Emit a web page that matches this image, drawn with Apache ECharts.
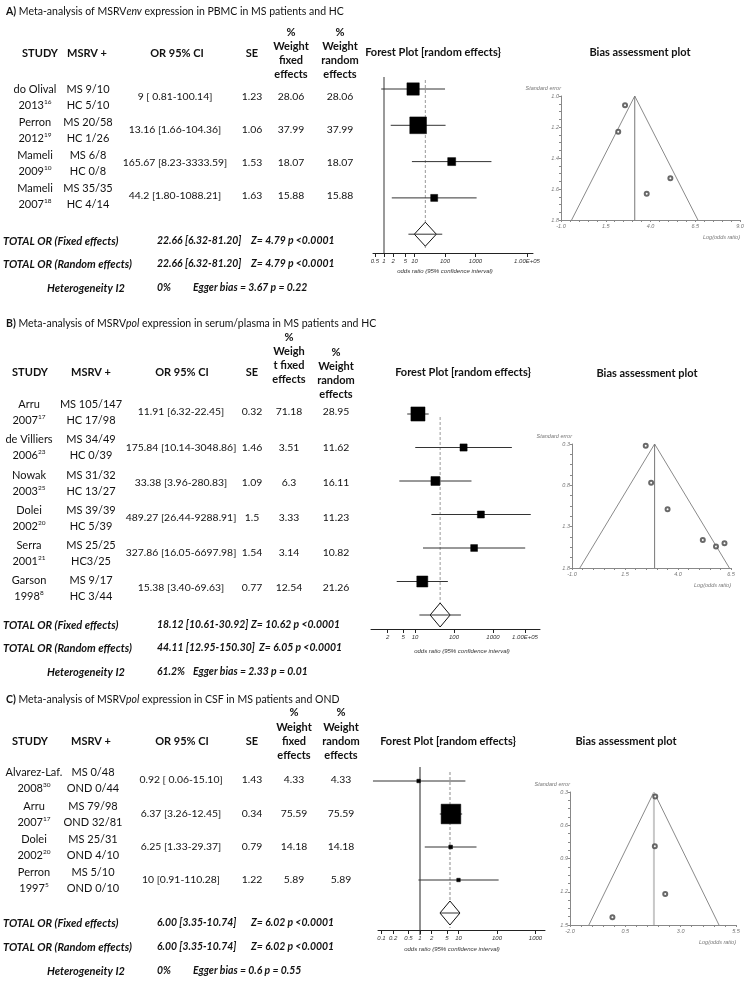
<!DOCTYPE html>
<html><head><meta charset="utf-8">
<script src="https://cdn.jsdelivr.net/npm/echarts@6/dist/echarts.min.js"></script>
<style>html,body{margin:0;padding:0;background:#fff}#c{width:750px;height:997px}</style>
</head><body><div id="c"></div>
<script>
// ================= DATA =================
// ---- Panel A ----
const studyA = ['do Olival','Perron','Mameli','Mameli'];
const yearA = ['2013','2012','2009','2007'];
const refA = ['16','19','10','18'];
const msA = ['MS 9/10','MS 20/58','MS 6/8','MS 35/35'];
const ctrlA = ['HC 5/10','HC 1/26','HC 0/8','HC 4/14'];
const orA = [9, 13.16, 165.67, 44.2];
const loA = [0.81, 1.66, 8.23, 1.80];
const hiA = [100.14, 104.36, 3333.59, 1088.21];
const ciTextA = ['9 [ 0.81-100.14]','13.16 [1.66-104.36]','165.67 [8.23-3333.59]','44.2 [1.80-1088.21]'];
const seA = [1.23, 1.06, 1.53, 1.63];
const wFixA = [28.06, 37.99, 18.07, 15.88];
const wRandA = [28.06, 37.99, 18.07, 15.88];
const pooledRandA = [22.66, 6.32, 81.20];
const pooledFixA = 22.66;
const totalFixA = ['TOTAL OR (Fixed effects)', '22.66 [6.32-81.20]', 'Z= 4.79 p <0.0001'];
const totalRandA = ['TOTAL OR (Random effects)', '22.66 [6.32-81.20]', 'Z= 4.79 p <0.0001'];
const hetA = ['Heterogeneity I2', '0%', 'Egger bias = 3.67 p = 0.22'];
const forestTicksA = [0.5, 1, 2, 5, 10, 100, 1000, 100000];
const forestTickLabelsA = ['0.5','1','2','5','10','100','1000','1.00E+05'];
const funnelXTicksA = [-1.0, 1.5, 4.0, 6.5, 9.0];
const funnelYTicksA = [1.0, 1.2, 1.4, 1.6, 1.8];

// ---- Panel B ----
const studyB = ['Arru','de Villiers','Nowak','Dolei','Serra','Garson'];
const yearB = ['2007','2006','2003','2002','2001','1998'];
const refB = ['17','23','25','20','21','8'];
const msB = ['MS 105/147','MS 34/49','MS 31/32','MS 39/39','MS 25/25','MS 9/17'];
const ctrlB = ['HC 17/98','HC 0/39','HC 13/27','HC 5/39','HC3/25','HC 3/44'];
const orB = [11.91, 175.84, 33.38, 489.27, 327.86, 15.38];
const loB = [6.32, 10.14, 3.96, 26.44, 16.05, 3.40];
const hiB = [22.45, 3048.86, 280.83, 9288.91, 6697.98, 69.63];
const ciTextB = ['11.91 [6.32-22.45]','175.84 [10.14-3048.86]','33.38 [3.96-280.83]','489.27 [26.44-9288.91]','327.86 [16.05-6697.98]','15.38 [3.40-69.63]'];
const seB = [0.32, 1.46, 1.09, 1.5, 1.54, 0.77];
const wFixB = ['71.18','3.51','6.3','3.33','3.14','12.54'];
const wRandB = [28.95, 11.62, 16.11, 11.23, 10.82, 21.26];
const pooledRandB = [44.11, 12.95, 150.30];
const pooledFixB = 18.12;
const totalFixB = ['TOTAL OR (Fixed effects)', '18.12 [10.61-30.92]', 'Z= 10.62 p <0.0001'];
const totalRandB = ['TOTAL OR (Random effects)', '44.11 [12.95-150.30]', 'Z= 6.05 p <0.0001'];
const hetB = ['Heterogeneity I2', '61.2%', 'Egger bias = 2.33 p = 0.01'];
const forestTicksB = [2, 5, 10, 100, 1000, 100000];
const forestTickLabelsB = ['2','5','10','100','1000','1.00E+05'];
const funnelXTicksB = [-1.0, 1.5, 4.0, 6.5];
const funnelYTicksB = [0.3, 0.8, 1.3, 1.8];

// ---- Panel C ----
const studyC = ['Alvarez-Laf.','Arru','Dolei','Perron'];
const yearC = ['2008','2007','2002','1997'];
const refC = ['30','17','20','5'];
const msC = ['MS 0/48','MS 79/98','MS 25/31','MS 5/10'];
const ctrlC = ['OND 0/44','OND 32/81','OND 4/10','OND 0/10'];
const orC = [0.92, 6.37, 6.25, 10];
const loC = [0.06, 3.26, 1.33, 0.91];
const hiC = [15.10, 12.45, 29.37, 110.28];
const ciTextC = ['0.92 [ 0.06-15.10]','6.37 [3.26-12.45]','6.25 [1.33-29.37]','10 [0.91-110.28]'];
const seC = [1.43, 0.34, 0.79, 1.22];
const wFixC = [4.33, 75.59, 14.18, 5.89];
const wRandC = [4.33, 75.59, 14.18, 5.89];
const pooledRandC = [6.00, 3.35, 10.74];
const pooledFixC = 6.00;
const totalFixC = ['TOTAL OR (Fixed effects)', '6.00 [3.35-10.74]', 'Z= 6.02 p <0.0001'];
const totalRandC = ['TOTAL OR (Random effects)', '6.00 [3.35-10.74]', 'Z= 6.02 p <0.0001'];
const hetC = ['Heterogeneity I2', '0%', 'Egger bias = 0.6 p = 0.55'];
const forestTicksC = [0.1, 0.2, 0.5, 1, 2, 5, 10, 100, 1000];
const forestTickLabelsC = ['0.1','0.2','0.5','1','2','5','10','100','1000'];
const funnelXTicksC = [-2.0, 0.5, 3.0, 5.5];
const funnelYTicksC = [0.3, 0.6, 0.9, 1.2, 1.5];

// ================= LAYOUT / RENDER =================
const FF = 'Lato';
const FS = 11;      // words
const NFS = 10.4;   // numeric strings (Calibri digits are narrower than Lato's)
const grids = [], xAxes = [], yAxes = [], series = [], graphics = [];

function T(x, y, text, o) {
  o = o || {};
  const align = o.align || 'center';
  const st = Object.assign({ text: text, fontFamily: FF, fontSize: FS, fill: '#111',
    align: align, textAlign: align, verticalAlign: 'middle', textVerticalAlign: 'middle' }, o);
  st.align = align; st.textAlign = align;
  graphics.push({ type: 'text', x: x, y: y, silent: true, z: 10, style: st });
}
function richTitle(x, y, letter, pre, ital, post) {
  const ts = 10.5;
  T(x, y, '{b|' + letter + '} {n|' + pre + '}{i|' + ital + '}{n|' + post + '}', {
    align: 'left', fontSize: ts,
    rich: {
      b: { fontFamily: FF, fontSize: ts, fontWeight: 'bold', fill: '#111' },
      n: { fontFamily: FF, fontSize: ts, fill: '#111' },
      i: { fontFamily: FF, fontSize: ts, fontStyle: 'italic', fill: '#111' }
    }
  });
}
function supText(x, y, base, sup) {
  T(x, y, '{n|' + base + '}{s|' + sup + '}', {
    rich: {
      n: { fontFamily: FF, fontSize: FS, lineHeight: 14, fill: '#111' },
      s: { fontFamily: FF, fontSize: 6.5, lineHeight: 8, verticalAlign: 'top', fill: '#111' }
    }
  });
}

function table(L, d) {
  richTitle(L.titleX, L.titleY, d.letter, d.pre, d.ital, d.post);
  const hb = { fontWeight: 'bold' };
  const num = { fontSize: NFS };
  T(L.hStudy, L.headerY, 'STUDY', hb);
  T(L.hMsrv, L.headerY, 'MSRV +', hb);
  T(L.hOr, L.headerY, 'OR 95% CI', hb);
  T(L.cSe, L.headerY, 'SE', hb);
  d.fixHeader.forEach((t, i) => T(L.cFix, L.fixHeaderY[i], t, hb));
  d.randHeader.forEach((t, i) => T(L.cRand, L.randHeaderY[i], t, hb));
  d.study.forEach((s, i) => {
    const m = L.rows[i];
    T(L.cStudy, m - L.off, s);
    supText(L.cStudy, m + L.off, d.year[i], d.ref[i]);
    T(L.cMsrv, m - L.off, d.ms[i]);
    T(L.cMsrv, m + L.off, d.ctrl[i]);
    T(L.cOr, m, d.ci[i], num);
    T(L.cSe, m, String(d.se[i]), num);
    T(L.cFix, m, String(d.wFix[i]), num);
    T(L.cRand, m, String(d.wRand[i]), num);
  });
  const bi = { fontWeight: 'bold', fontStyle: 'italic', align: 'left' };
  const bin = { fontWeight: 'bold', fontStyle: 'italic', align: 'left', fontSize: NFS };
  [d.totFix, d.totRand].forEach((r, i) => {
    T(L.tLabel, L.totY[i], r[0], bi);
    T(L.tVal, L.totY[i], r[1], bin);
    T(L.tZ[i], L.totY[i], r[2], bin);
  });
  T(L.hetLabel, L.hetY, d.het[0], bi);
  T(L.tVal, L.hetY, d.het[1], bin);
  T(L.hetEgger, L.hetY, d.het[2], bin);
  T(L.forestTitle[0], L.forestTitle[1], 'Forest Plot [random effects}', { fontWeight: 'bold' });
  T(L.biasTitle[0], L.biasTitle[1], 'Bias assessment plot', { fontWeight: 'bold' });
}

function addForest(cfg, d) {
  const gi = grids.length;
  const xmin = (cfg.xl - cfg.x1) / cfg.dec, xmax = (cfg.xr - cfg.x1) / cfg.dec;
  const ymin = (cfg.top - cfg.y0) / cfg.dy, ymax = (cfg.bottom - cfg.y0) / cfg.dy;
  const pxY = p => (p - cfg.y0) / cfg.dy;
  grids.push({ left: cfg.xl, top: cfg.top, width: cfg.xr - cfg.xl, height: cfg.bottom - cfg.top,
    containLabel: false, outerBoundsMode: 'none', show: false });
  const lastPos = cfg.lastX != null ? (cfg.lastX - cfg.x1) / cfg.dec : xmax;
  const pos = d.ticks.map(t => { const v = Math.log10(t); return v > xmax ? lastPos : v; });
  const lab = v => { for (let i = 0; i < pos.length; i++) if (Math.abs(pos[i] - v) < 1e-6) return d.tickLabels[i]; return ''; };
  xAxes.push({ gridIndex: gi, type: 'value', min: xmin, max: xmax,
    axisLine: { show: true, onZero: false, lineStyle: { color: '#222', width: 1 } },
    axisTick: { show: true, customValues: pos, length: 4, inside: false, lineStyle: { color: '#222' } },
    axisLabel: { show: true, customValues: pos, formatter: lab, fontSize: 6, fontStyle: 'italic',
      fontFamily: 'Liberation Sans', color: '#333', margin: 5 },
    splitLine: { show: false } });
  yAxes.push({ gridIndex: gi, type: 'value', min: ymin, max: ymax, inverse: true, show: false, splitLine: { show: false } });
  const lp = Math.log10(d.pooled[0]);
  if (cfg.oneLine) {
    series.push({ type: 'line', z: 1, xAxisIndex: gi, yAxisIndex: gi, symbol: 'none', silent: true, animation: false,
      data: [[0, pxY(cfg.oneTop)], [0, pxY(cfg.oneBottom)]], clip: false,
      lineStyle: { color: cfg.oneColor, width: cfg.oneWidth } });
  }
  series.push({ type: 'line', z: 1, xAxisIndex: gi, yAxisIndex: gi, symbol: 'none', silent: true, animation: false,
    data: [[lp, pxY(cfg.dashTop)], [lp, pxY(cfg.dashBottom)]], clip: false,
    lineStyle: { color: cfg.dashColor, width: cfg.dashWidth, type: [3, 2] } });
  const rows = d.or.map((o, i) => [Math.log10(o), i, Math.log10(d.lo[i]), Math.log10(d.hi[i]), cfg.size(d.w[i])]);
  series.push({ type: 'custom', z: 4, xAxisIndex: gi, yAxisIndex: gi, silent: true, animation: false, clip: false,
    encode: { x: 0, y: 1 }, data: rows,
    renderItem: (params, api) => {
      const c = api.coord([api.value(0), api.value(1)]);
      const l = api.coord([api.value(2), api.value(1)]);
      const r = api.coord([api.value(3), api.value(1)]);
      const s = api.value(4);
      return { type: 'group', children: [
        { type: 'line', shape: { x1: l[0], y1: l[1], x2: r[0], y2: r[1] }, style: { stroke: '#333', lineWidth: 1 } },
        { type: 'rect', shape: { x: c[0] - s / 2, y: c[1] - s / 2, width: s, height: s }, style: { fill: '#000', stroke: '#000', lineWidth: 0.5 } }
      ] };
    } });
  series.push({ type: 'custom', z: 4, xAxisIndex: gi, yAxisIndex: gi, silent: true, animation: false, clip: false,
    encode: { x: 0, y: 1 },
    data: [[lp, d.or.length + cfg.diamondGap, Math.log10(d.pooled[1]), Math.log10(d.pooled[2])]],
    renderItem: (params, api) => {
      const c = api.coord([api.value(0), api.value(1)]);
      const l = api.coord([api.value(2), api.value(1)]);
      const r = api.coord([api.value(3), api.value(1)]);
      const hw = cfg.dw, hh = cfg.dh;
      return { type: 'group', children: [
        { type: 'polygon', shape: { points: [[c[0], c[1] - hh], [c[0] + hw, c[1]], [c[0], c[1] + hh], [c[0] - hw, c[1]]] },
          style: { fill: '#fff', stroke: '#111', lineWidth: 1 } },
        { type: 'line', shape: { x1: l[0], y1: l[1], x2: r[0], y2: r[1] }, style: { stroke: '#333', lineWidth: 1 } }
      ] };
    } });
}

function stepTicks(a, b, step) {
  const out = []; const n = Math.round((b - a) / step);
  for (let i = 0; i <= n; i++) out.push(+(a + i * step).toFixed(4));
  return out;
}

function addFunnel(cfg, d) {
  const gi = grids.length;
  const xmin = d.xTicks[0], xmax = d.xTicks[d.xTicks.length - 1];
  const ymin = d.yTicks[0], ymax = d.yTicks[d.yTicks.length - 1];
  grids.push({ left: cfg.xl, top: cfg.top, width: cfg.xr - cfg.xl, height: cfg.bottom - cfg.top,
    containLabel: false, outerBoundsMode: 'none', show: false });
  const small = { fontSize: 5.5, fontStyle: 'italic', fontFamily: 'Liberation Sans', color: '#777' };
  xAxes.push({ gridIndex: gi, type: 'value', min: xmin, max: xmax,
    axisLine: { show: true, onZero: false, lineStyle: { color: '#888', width: 1 } },
    axisTick: { show: true, customValues: stepTicks(xmin, xmax, (d.xTicks[1] - d.xTicks[0]) / 5), length: 2, lineStyle: { color: '#888' } },
    axisLabel: Object.assign({ show: true, customValues: d.xTicks, formatter: v => v.toFixed(1), margin: 3 }, small),
    name: 'Log(odds ratio)', nameLocation: 'end', nameGap: 0,
    nameTextStyle: Object.assign({ align: 'right', verticalAlign: 'top', padding: [14, 0, 0, 0] }, small),
    splitLine: { show: false } });
  yAxes.push({ gridIndex: gi, type: 'value', min: ymin, max: ymax, inverse: true,
    axisLine: { show: true, onZero: false, lineStyle: { color: '#888', width: 1 } },
    axisTick: { show: true, customValues: stepTicks(ymin, ymax, (d.yTicks[1] - d.yTicks[0]) / 4), length: 2, lineStyle: { color: '#888' } },
    axisLabel: Object.assign({ show: true, customValues: d.yTicks, formatter: v => v.toFixed(1), margin: 2 }, small),
    name: 'Standard error', nameLocation: 'start', nameGap: 5,
    nameTextStyle: Object.assign({ align: 'right', verticalAlign: 'bottom' }, small),
    splitLine: { show: false } });
  const c = Math.log(d.center);
  series.push({ type: 'line', z: 1, xAxisIndex: gi, yAxisIndex: gi, symbol: 'none', silent: true, animation: false, clip: false,
    data: [[c - 1.96 * ymax, ymax], [c, ymin], [c + 1.96 * ymax, ymax]],
    lineStyle: { color: '#8a8a8a', width: 1 } });
  series.push({ type: 'line', z: 1, xAxisIndex: gi, yAxisIndex: gi, symbol: 'none', silent: true, animation: false, clip: false,
    data: [[c, ymin], [c, ymax]], lineStyle: { color: cfg.vColor, width: cfg.vWidth } });
  series.push({ type: 'scatter', z: 4, xAxisIndex: gi, yAxisIndex: gi, silent: true, animation: false,
    symbol: 'emptyCircle', symbolSize: 4, itemStyle: { color: '#444', borderWidth: 1 },
    data: d.or.map((o, i) => [Math.log(o), d.se[i]]) });
}

// ---- Panel A ----
table({ titleX: 6, titleY: 12, headerY: 53, hStudy: 40, hMsrv: 87, hOr: 177, cSe: 252,
  cStudy: 35, cMsrv: 88, cOr: 175, cFix: 291, cRand: 340,
  fixHeaderY: [32, 46, 60, 74], randHeaderY: [32, 46, 60, 74],
  rows: [97, 130, 163, 196], off: 8, totY: [241, 264], hetY: 288,
  tLabel: 3, tVal: 157, tZ: [251, 251], hetLabel: 47, hetEgger: 193,
  forestTitle: [433, 52], biasTitle: [640, 52] },
  { letter: 'A)', pre: 'Meta-analysis of MSRV', ital: 'env', post: ' expression in PBMC in MS patients and HC',
    fixHeader: ['%', 'Weight', 'fixed', 'effects'], randHeader: ['%', 'Weight', 'random', 'effects'],
    study: studyA, year: yearA, ref: refA, ms: msA, ctrl: ctrlA, ci: ciTextA, se: seA, wFix: wFixA, wRand: wRandA,
    totFix: totalFixA, totRand: totalRandA, het: hetA });
addForest({ x1: 384, dec: 30.5, xl: 373, xr: 533, lastX: 527, y0: 89, dy: 36.3, top: 77, bottom: 253,
  oneLine: true, oneTop: 77, oneBottom: 253, oneColor: '#9a9a9a', oneWidth: 2,
  dashTop: 80, dashBottom: 250, dashColor: '#999', dashWidth: 1, diamondGap: 0, dw: 11, dh: 12,
  size: w => w * 0.44 },
  { or: orA, lo: loA, hi: hiA, w: wRandA, pooled: pooledRandA, ticks: forestTicksA, tickLabels: forestTickLabelsA });
addFunnel({ xl: 561, xr: 740, top: 96, bottom: 220, vColor: '#777', vWidth: 1 },
  { or: orA, se: seA, center: pooledFixA, xTicks: funnelXTicksA, yTicks: funnelYTicksA });

// ---- Panel B ----
table({ titleX: 6, titleY: 324, headerY: 372, hStudy: 30, hMsrv: 91, hOr: 182, cSe: 252,
  cStudy: 29, cMsrv: 91, cOr: 181, cFix: 289, cRand: 336,
  fixHeaderY: [337, 351, 365, 379], randHeaderY: [352, 366, 380, 394],
  rows: [412, 447.5, 483, 518, 553, 588], off: 8, totY: [625, 648], hetY: 672,
  tLabel: 3, tVal: 157, tZ: [251, 259], hetLabel: 47, hetEgger: 193,
  forestTitle: [463, 372], biasTitle: [647, 373] },
  { letter: 'B)', pre: 'Meta-analysis of MSRV', ital: 'pol', post: ' expression in serum/plasma in MS patients and HC',
    fixHeader: ['%', 'Weigh', 't fixed', 'effects'], randHeader: ['%', 'Weight', 'random', 'effects'],
    study: studyB, year: yearB, ref: refB, ms: msB, ctrl: ctrlB, ci: ciTextB, se: seB, wFix: wFixB, wRand: wRandB,
    totFix: totalFixB, totRand: totalRandB, het: hetB });
addForest({ x1: 376, dec: 39, xl: 371, xr: 540, lastX: 525, y0: 414, dy: 33.5, top: 405, bottom: 629,
  oneLine: false, dashTop: 417, dashBottom: 627, dashColor: '#999', dashWidth: 1, diamondGap: 0, dw: 10, dh: 12,
  size: w => 2.5 + w * 0.4 },
  { or: orB, lo: loB, hi: hiB, w: wRandB, pooled: pooledRandB, ticks: forestTicksB, tickLabels: forestTickLabelsB });
addFunnel({ xl: 572, xr: 731, top: 444, bottom: 568, vColor: '#777', vWidth: 1 },
  { or: orB, se: seB, center: pooledFixB, xTicks: funnelXTicksB, yTicks: funnelYTicksB });

// ---- Panel C ----
table({ titleX: 6, titleY: 700, headerY: 741, hStudy: 30, hMsrv: 91, hOr: 182, cSe: 252,
  cStudy: 34, cMsrv: 93, cOr: 181, cFix: 294, cRand: 341,
  fixHeaderY: [712, 727, 741, 755], randHeaderY: [712, 727, 741, 755],
  rows: [780, 814, 847, 880], off: 8, totY: [923, 947], hetY: 971,
  tLabel: 3, tVal: 157, tZ: [251, 251], hetLabel: 47, hetEgger: 193,
  forestTitle: [448, 741], biasTitle: [626, 741] },
  { letter: 'C)', pre: 'Meta-analysis of MSRV', ital: 'pol', post: ' expression in CSF in MS patients and OND',
    fixHeader: ['%', 'Weight', 'fixed', 'effects'], randHeader: ['%', 'Weight', 'random', 'effects'],
    study: studyC, year: yearC, ref: refC, ms: msC, ctrl: ctrlC, ci: ciTextC, se: seC, wFix: wFixC, wRand: wRandC,
    totFix: totalFixC, totRand: totalRandC, het: hetC });
addForest({ x1: 420, dec: 38.5, xl: 378, xr: 545, y0: 781, dy: 33, top: 767, bottom: 930,
  oneLine: true, oneTop: 767, oneBottom: 935, oneColor: '#222', oneWidth: 1,
  dashTop: 772, dashBottom: 928, dashColor: '#c4c4c4', dashWidth: 2, diamondGap: 0, dw: 10, dh: 12,
  size: w => Math.max(3.5, w * 0.26) },
  { or: orC, lo: loC, hi: hiC, w: wRandC, pooled: pooledRandC, ticks: forestTicksC, tickLabels: forestTickLabelsC });
addFunnel({ xl: 570, xr: 736, top: 792, bottom: 925, vColor: '#c8c8c8', vWidth: 2 },
  { or: orC, se: seC, center: pooledFixC, xTicks: funnelXTicksC, yTicks: funnelYTicksC });

// odds ratio axis captions
const small6 = { fontSize: 6, fontStyle: 'italic', fontFamily: 'Liberation Sans', fill: '#333' };
T(445, 271, 'odds ratio (95% confidence interval)', small6);
T(462, 651, 'odds ratio (95% confidence interval)', small6);
T(452, 949, 'odds ratio (95% confidence interval)', small6);

const chart = echarts.init(document.getElementById('c'), null, { renderer: 'canvas', width: 750, height: 997 });
chart.setOption({
  animation: false,
  backgroundColor: '#fff',
  grid: grids, xAxis: xAxes, yAxis: yAxes, series: series,
  graphic: { elements: graphics }
});
</script>
</body></html>
